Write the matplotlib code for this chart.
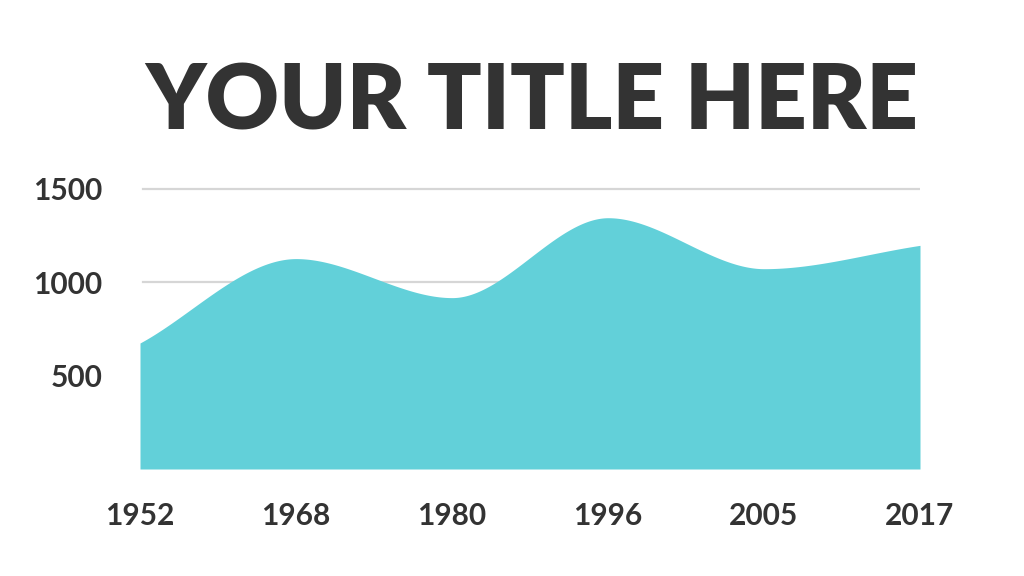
import numpy as np
import matplotlib
matplotlib.use("Agg")
import matplotlib.pyplot as plt

years = ["1952", "1968", "1980", "1996", "2005", "2017"]
values = [675, 1127, 918, 1346, 1073, 1198]
yticks = [500, 1000, 1500]

AREA = "#62D0D9"
TEXT = "#333333"
GRID = "#D6D6D6"


def pchip(x, y, xs):
    x = np.asarray(x, float); y = np.asarray(y, float)
    h = np.diff(x); d = np.diff(y) / h
    n = len(x); m = np.zeros(n)
    for k in range(1, n - 1):
        if d[k - 1] * d[k] > 0:
            w1 = 2 * h[k] + h[k - 1]; w2 = h[k] + 2 * h[k - 1]
            m[k] = (w1 + w2) / (w1 / d[k - 1] + w2 / d[k])
    m[0] = d[0]; m[-1] = d[-1]
    idx = np.clip(np.searchsorted(x, xs) - 1, 0, n - 2)
    t = (xs - x[idx]) / h[idx]
    h00 = 2 * t**3 - 3 * t**2 + 1; h10 = t**3 - 2 * t**2 + t
    h01 = -2 * t**3 + 3 * t**2; h11 = t**3 - t**2
    return h00 * y[idx] + h10 * h[idx] * m[idx] + h01 * y[idx + 1] + h11 * h[idx] * m[idx + 1]


fig = plt.figure(figsize=(10.24, 5.76), dpi=100)
W, H = 1024, 576
left, right, bottom_px, top_px = 140, 920, 469, 170.3
ax = fig.add_axes([left / W, 1 - bottom_px / H, (right - left) / W, (bottom_px - top_px) / H])

xpos = np.arange(len(years))
xs = np.linspace(0, len(years) - 1, 600)
ys = pchip(xpos, values, xs)
ax.fill_between(xs, 0, ys, color=AREA, linewidth=0, zorder=2)

ax.set_xlim(0, len(years) - 1)
ax.set_ylim(0, 1600)
for v in yticks[1:]:
    ax.axhline(v, color=GRID, linewidth=1.6, zorder=1, xmin=3 / 780)

ax.set_yticks(yticks)
ax.set_yticklabels([str(v) for v in yticks])
ax.set_xticks(xpos)
ax.set_xticklabels(years)
for s in ax.spines.values():
    s.set_visible(False)
ax.tick_params(axis="both", length=0, labelsize=21.5, labelcolor=TEXT)
ax.tick_params(axis="x", pad=24)
ax.tick_params(axis="y", pad=27)
for lab in ax.get_xticklabels() + ax.get_yticklabels():
    lab.set_fontfamily("Lato")
    lab.set_fontweight("bold")

fig.text(532 / W, 1 - 103 / H, "YOUR TITLE HERE", ha="center", va="center",
         fontsize=65, fontweight="heavy", family="Lato", color=TEXT)

fig.savefig("out.png", dpi=100, facecolor="white")
